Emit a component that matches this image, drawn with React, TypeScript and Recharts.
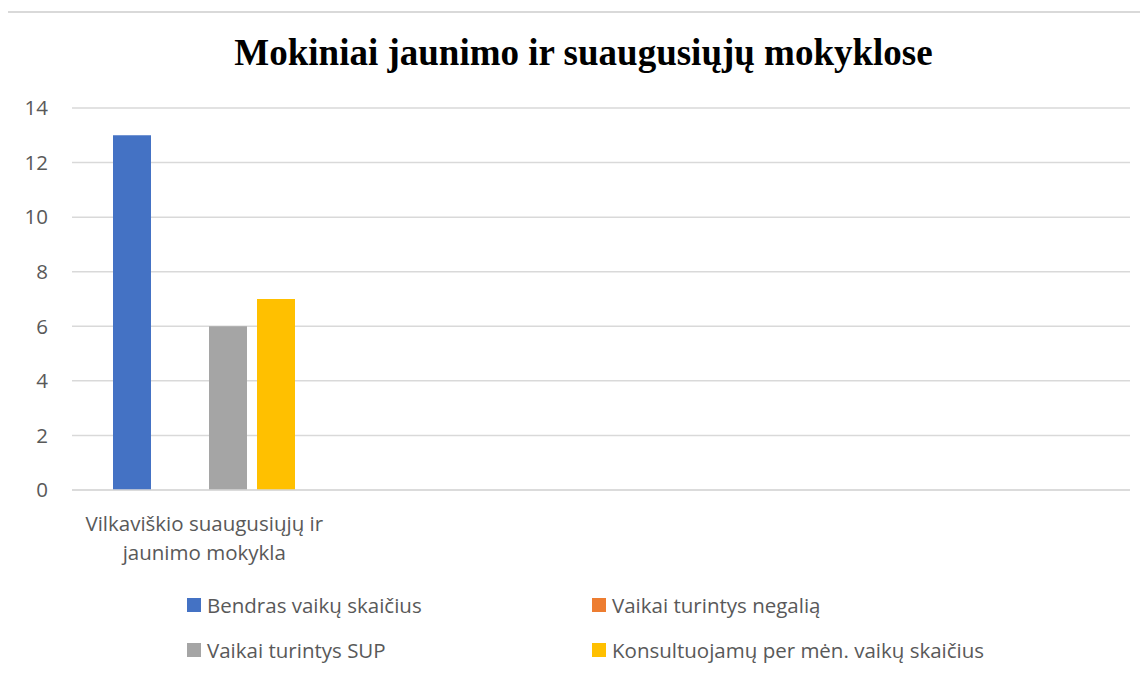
import React from "react";
import { BarChart, Bar, XAxis, YAxis, CartesianGrid } from "recharts";

// Chart data
const categories = ["Vilkaviškio suaugusiųjų ir jaunimo mokykla", "", "", ""];
const bendras = [13, null, null, null];
const negalia = [0, null, null, null];
const sup = [6, null, null, null];
const konsultuojami = [7, null, null, null];
const yTicks = [0, 2, 4, 6, 8, 10, 12, 14];

const seriesNames = [
  "Bendras vaikų skaičius",
  "Vaikai turintys negalią",
  "Vaikai turintys SUP",
  "Konsultuojamų per mėn. vaikų skaičius",
];
const seriesColors = ["#4472C4", "#ED7D31", "#A5A5A5", "#FFC000"];
const seriesKeys = ["bendras", "negalia", "sup", "konsultuojami"];

const data = categories.map((name, i) => ({
  name,
  bendras: bendras[i],
  negalia: negalia[i],
  sup: sup[i],
  konsultuojami: konsultuojami[i],
}));

const FONT = "'Open Sans', sans-serif";
const FONT_SIZE = 20.5;
const TEXT_COLOR = "#595959";

// wraps the category label into lines of at most ~26 chars
const wrap = (label: string, max = 26) => {
  const lines: string[] = [];
  let cur = "";
  label.split(" ").forEach((w) => {
    if (cur && (cur + " " + w).length > max) {
      lines.push(cur);
      cur = w;
    } else {
      cur = cur ? cur + " " + w : w;
    }
  });
  if (cur) lines.push(cur);
  return lines;
};

const CategoryTick = (props: any) => {
  const { x, y, payload } = props;
  const lines = wrap(String(payload.value || ""));
  return (
    <text
      x={x}
      y={y}
      textAnchor="middle"
      fill={TEXT_COLOR}
      fontFamily={FONT}
      fontSize={FONT_SIZE}
    >
      {lines.map((l, i) => (
        <tspan key={i} x={x} y={y + 39 + i * 29}>
          {l}
        </tspan>
      ))}
    </text>
  );
};

const legendCols = [
  [0, 2],
  [1, 3],
];

export default function App() {
  return (
    <div style={{ position: "relative", margin: -8, width: 1148, height: 678, overflow: "hidden", background: "#fff" }}>
      <div
        style={{
          position: "absolute",
          left: 6,
          top: 11,
          width: 1160,
          height: 700,
          borderTop: "2px solid #d9d9d9",
          borderLeft: "2px solid #d9d9d9",
        }}
      />
      <div
        style={{
          position: "absolute",
          left: 0,
          width: 1148,
          top: 29,
          textAlign: "center",
          fontFamily: "'Liberation Serif', 'Times New Roman', serif",
          fontWeight: "bold",
          fontSize: 37,
          lineHeight: "48px",
          color: "#000",
          paddingLeft: 19,
          boxSizing: "border-box",
        }}
      >
        Mokiniai jaunimo ir suaugusiųjų mokyklose
      </div>
      <div style={{ position: "absolute", left: 0, top: 0 }}>
        <BarChart
          width={1148}
          height={678}
          data={data}
          margin={{ top: 108, right: 18, bottom: 108, left: 0 }}
          barGap={10}
          barCategoryGap={41}
        >
          <CartesianGrid vertical={false} stroke="#d9d9d9" strokeWidth={1.5} />
          <XAxis
            dataKey="name"
            height={80}
            axisLine={{ stroke: "#d9d9d9", strokeWidth: 1.5 }}
            tickLine={false}
            tickSize={0}
            interval={0}
            tick={<CategoryTick />}
          />
          <YAxis
            width={72}
            domain={[0, 14]}
            ticks={yTicks}
            axisLine={false}
            tickLine={false}
            tickSize={0}
            tickMargin={24}
            tick={{ fill: TEXT_COLOR, fontFamily: FONT, fontSize: FONT_SIZE }}
          />
          {seriesKeys.map((k, i) => (
            <Bar key={k} dataKey={k} name={seriesNames[i]} fill={seriesColors[i]} isAnimationActive={false} />
          ))}
        </BarChart>
      </div>
      {legendCols.map((col, c) =>
        col.map((si, r) => (
          <div
            key={si}
            style={{
              position: "absolute",
              left: c === 0 ? 187 : 592,
              top: 593 + r * 45,
              display: "flex",
              alignItems: "center",
              fontFamily: FONT,
              fontSize: FONT_SIZE,
              color: TEXT_COLOR,
              lineHeight: "24px",
              whiteSpace: "nowrap",
            }}
          >
            <span style={{ display: "inline-block", width: 14, height: 14, background: seriesColors[si], marginRight: 6 }} />
            {seriesNames[si]}
          </div>
        ))
      )}
    </div>
  );
}
